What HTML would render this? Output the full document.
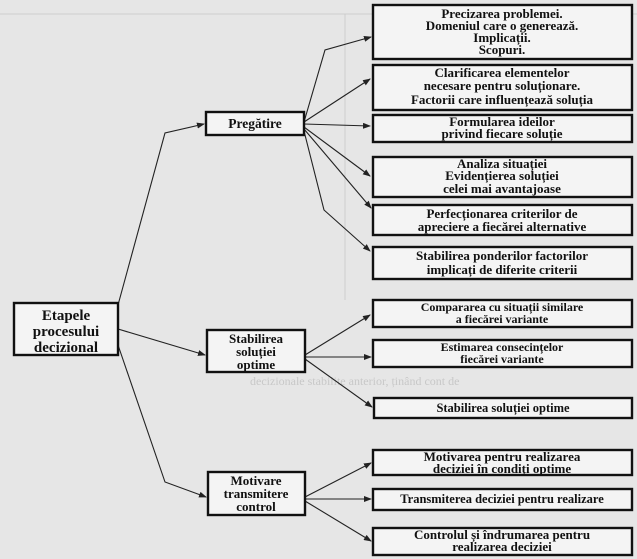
<!DOCTYPE html>
<html><head><meta charset="utf-8"><style>
html,body{margin:0;padding:0;background:#e6e6e6;}
svg{display:block;}
text{font-family:"Liberation Serif",serif;font-weight:bold;fill:#111;text-anchor:middle;}
.b{fill:#f4f4f4;stroke:#111;stroke-width:2.4;}
.l{stroke:#222;stroke-width:1.1;fill:none;marker-end:url(#a);}
.f{stroke:#cdcdcd;stroke-width:1;}
.ft{font-family:"Liberation Serif",serif;font-weight:normal;fill:#c8c8c8;font-size:10px;text-anchor:start;}
</style></head><body>
<svg width="637" height="559" viewBox="0 0 637 559">
<defs><marker id="a" markerWidth="8" markerHeight="6" refX="7" refY="3" orient="auto" markerUnits="userSpaceOnUse"><path d="M0,0 L8,3 L0,6 Z" fill="#222"/></marker></defs>
<line class="f" x1="0" y1="14" x2="637" y2="14"/>
<line class="f" x1="345" y1="14" x2="345" y2="300"/>
<text class="ft" x="250" y="385" style="font-size:12px">decizionale stabilite anterior, ținând cont de</text>
<!-- connectors -->
<polyline class="l" points="118,305 165,133 204,124"/>
<line class="l" x1="118" y1="329" x2="205" y2="355"/>
<polyline class="l" points="118,345 165,482 206,497"/>
<polyline class="l" points="304,122 325,50 371,37"/>
<line class="l" x1="304" y1="122" x2="370" y2="79"/>
<line class="l" x1="304" y1="124" x2="370" y2="126"/>
<line class="l" x1="304" y1="127" x2="370" y2="176"/>
<line class="l" x1="304" y1="129" x2="371" y2="208"/>
<polyline class="l" points="304,131 324,210 370,251"/>
<line class="l" x1="305" y1="355" x2="370" y2="315"/>
<line class="l" x1="305" y1="357" x2="371" y2="357"/>
<line class="l" x1="305" y1="359" x2="372" y2="407"/>
<line class="l" x1="305" y1="497" x2="371" y2="463"/>
<line class="l" x1="305" y1="499" x2="371" y2="499"/>
<line class="l" x1="305" y1="501" x2="371" y2="541"/>
<!-- left nodes -->
<rect class="b" x="14" y="303" width="104" height="52"/>
<text x="66" y="320" font-size="15">Etapele</text>
<text x="66" y="336" font-size="15">procesului</text>
<text x="66" y="352" font-size="15">decizional</text>
<rect class="b" x="206" y="112" width="98" height="23"/>
<text x="255" y="128" font-size="13.5">Pregătire</text>
<rect class="b" x="207" y="330" width="98" height="42"/>
<text x="256" y="343" font-size="13">Stabilirea</text>
<text x="256" y="356" font-size="13">soluției</text>
<text x="256" y="369" font-size="13">optime</text>
<rect class="b" x="208" y="472" width="97" height="43"/>
<text x="256" y="485" font-size="13">Motivare</text>
<text x="256" y="498" font-size="13">transmitere</text>
<text x="256" y="511" font-size="13">control</text>
<!-- right boxes -->
<g font-size="13">
<rect class="b" x="373" y="5" width="259" height="54"/>
<text x="502" y="18">Precizarea problemei.</text>
<text x="502" y="30">Domeniul care o generează.</text>
<text x="502" y="42">Implicații.</text>
<text x="502" y="54">Scopuri.</text>
<rect class="b" x="373" y="65" width="259" height="45"/>
<text x="502" y="77">Clarificarea elementelor</text>
<text x="502" y="90">necesare pentru soluționare.</text>
<text x="502" y="104">Factorii care influențează soluția</text>
<rect class="b" x="373" y="115" width="259" height="27"/>
<text x="502" y="126">Formularea ideilor</text>
<text x="502" y="138">privind fiecare soluție</text>
<rect class="b" x="373" y="157" width="259" height="40"/>
<text x="502" y="168">Analiza situației</text>
<text x="502" y="180">Evidențierea soluției</text>
<text x="502" y="193">celei mai avantajoase</text>
<rect class="b" x="373" y="205" width="259" height="30"/>
<text x="502" y="218">Perfecționarea criterilor de</text>
<text x="502" y="231">apreciere a fiecărei alternative</text>
<rect class="b" x="373" y="247" width="259" height="32"/>
<text x="502" y="260">Stabilirea ponderilor factorilor</text>
<text x="502" y="274">implicați de diferite criterii</text>
<rect class="b" x="373" y="300" width="259" height="27"/>
<text x="502" y="311" font-size="12">Compararea cu situații similare</text>
<text x="502" y="323" font-size="12">a fiecărei variante</text>
<rect class="b" x="373" y="340" width="259" height="27"/>
<text x="502" y="351" font-size="12">Estimarea consecințelor</text>
<text x="502" y="363" font-size="12">fiecărei variante</text>
<rect class="b" x="374" y="398" width="258" height="20"/>
<text x="503" y="412" font-size="12.5">Stabilirea soluției optime</text>
<rect class="b" x="373" y="450" width="259" height="25"/>
<text x="502" y="461">Motivarea pentru realizarea</text>
<text x="502" y="473">deciziei în condiți optime</text>
<rect class="b" x="373" y="489" width="259" height="21"/>
<text x="502" y="503" font-size="12.5">Transmiterea deciziei pentru realizare</text>
<rect class="b" x="373" y="528" width="259" height="27"/>
<text x="502" y="539">Controlul și îndrumarea pentru</text>
<text x="502" y="551">realizarea deciziei</text>
</g>
</svg>
</body></html>
